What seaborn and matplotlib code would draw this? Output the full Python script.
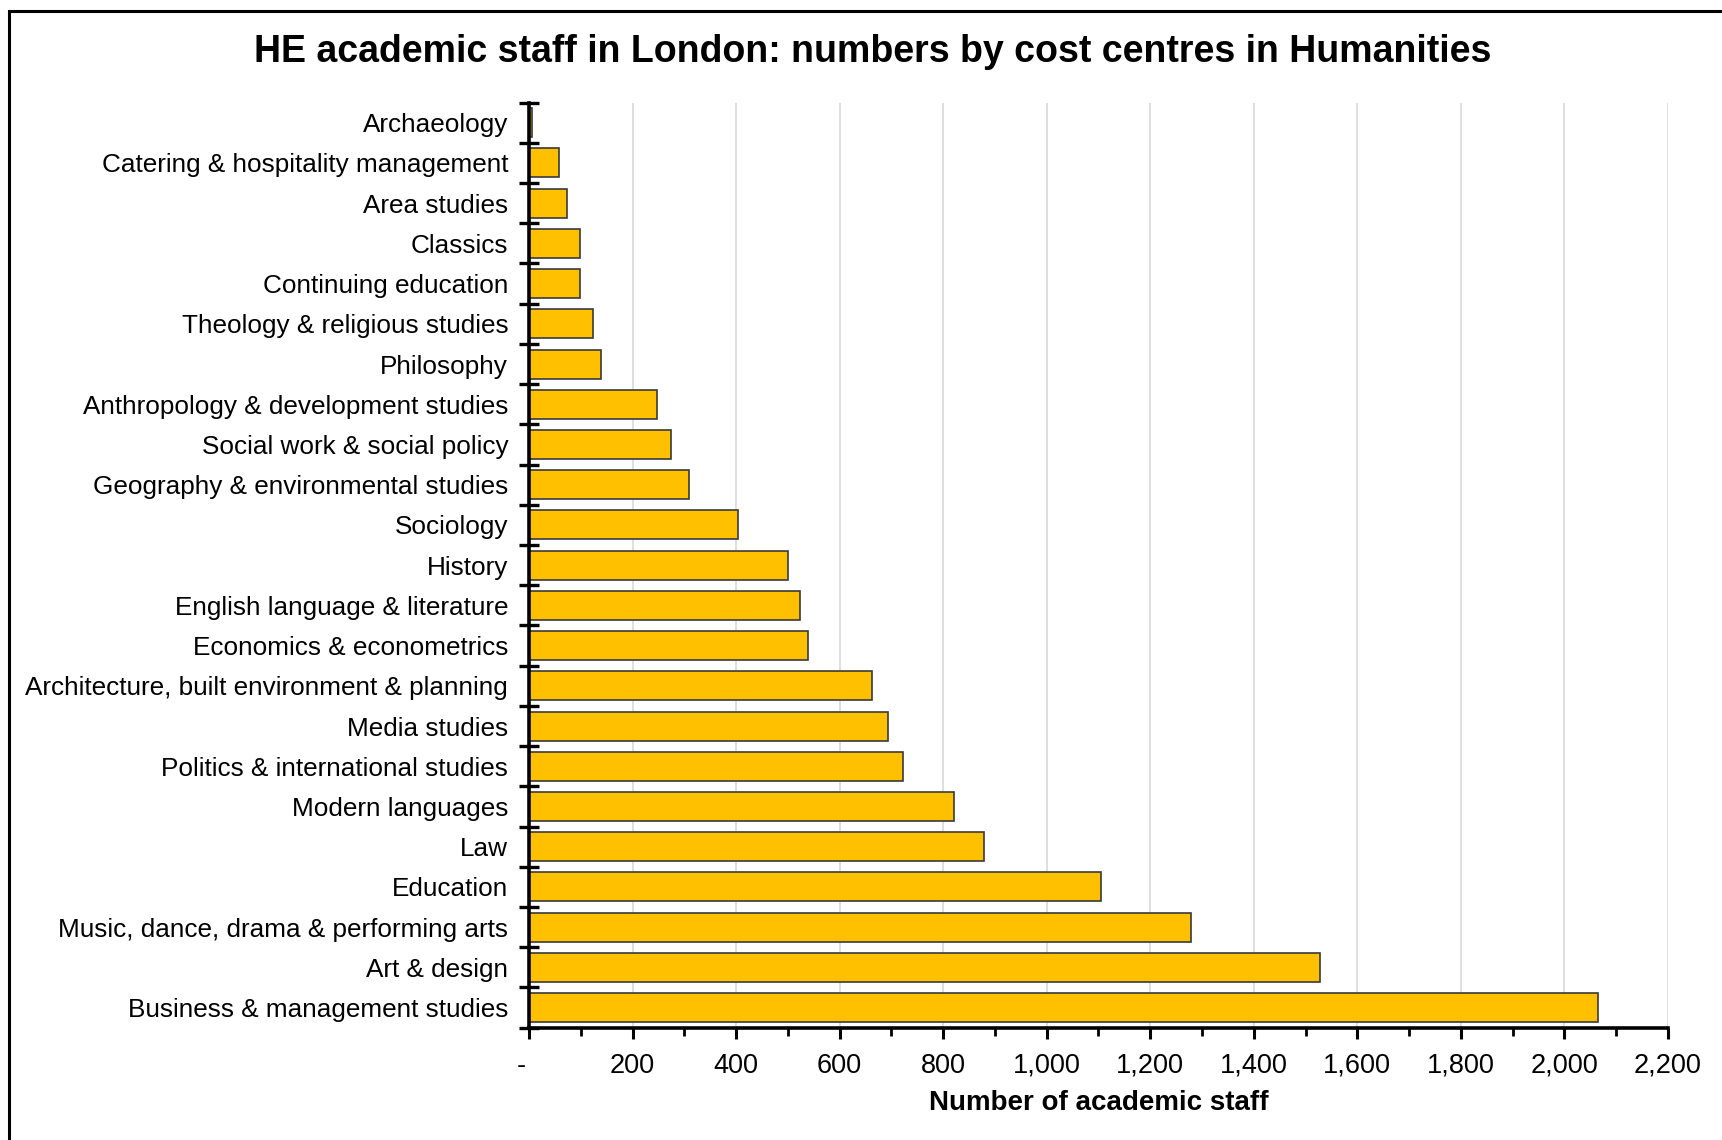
import numpy as np
import pandas as pd
import matplotlib
matplotlib.use("Agg")
import matplotlib.pyplot as plt
import matplotlib.ticker as mticker
from matplotlib.patches import Rectangle
import seaborn as sns

cost_centres = ["Archaeology", "Catering & hospitality management", "Area studies", "Classics",
                "Continuing education", "Theology & religious studies", "Philosophy",
                "Anthropology & development studies", "Social work & social policy",
                "Geography & environmental studies", "Sociology", "History",
                "English language & literature", "Economics & econometrics",
                "Architecture, built environment & planning", "Media studies",
                "Politics & international studies", "Modern languages", "Law", "Education",
                "Music, dance, drama & performing arts", "Art & design",
                "Business & management studies"]
staff = [5, 57, 73, 99, 98, 124, 139, 248, 274, 310, 403, 500, 523, 539,
         663, 694, 722, 820, 879, 1104, 1279, 1528, 2064]

df = pd.DataFrame({"centre": cost_centres, "staff": staff})

sns.set_style("white")
plt.rcParams["font.family"] = ["Liberation Sans", "DejaVu Sans"]
for key in ["text.color", "axes.labelcolor", "xtick.color", "ytick.color"]:
    plt.rcParams[key] = "black"

fig = plt.figure(figsize=(17.22, 11.4), dpi=100)
ax = fig.add_axes([0.3072, 0.0985, 0.6614, 0.8115])

sns.barplot(data=df, x="staff", y="centre", orient="h", color="#FFC000",
            edgecolor="#3a3a3a", linewidth=1.2, width=0.72, saturation=1, ax=ax)

ax.set_xlim(0, 2200)
ax.set_ylim(len(cost_centres) - 0.5, -0.5)
ax.xaxis.set_major_locator(mticker.MultipleLocator(200))
ax.xaxis.set_minor_locator(mticker.MultipleLocator(100))
# Excel accounting style: zero shown as a dash, slightly left of the axis
ax.xaxis.set_major_formatter(mticker.FuncFormatter(lambda v, p: "-  " if v == 0 else f"{int(v):,}"))
ax.grid(axis="x", which="major", color="#d9d9d9", linewidth=1.2)
ax.set_axisbelow(True)

ax.set_yticks(np.arange(-0.5, len(cost_centres), 1), minor=True)
ax.tick_params(left=True, bottom=True, which="both")
ax.tick_params(axis="y", which="major", length=0, pad=15, labelsize=18.8)
ax.tick_params(axis="y", which="minor", direction="inout", length=14, width=2.4, color="black")
ax.tick_params(axis="x", which="major", direction="out", length=8, width=2.2, pad=10,
               labelsize=19.5, color="black")
ax.tick_params(axis="x", which="minor", direction="out", length=6, width=2, color="black")

for side in ["top", "right"]:
    ax.spines[side].set_visible(False)
for side in ["left", "bottom"]:
    ax.spines[side].set_linewidth(2.6)
    ax.spines[side].set_color("black")

ax.set_ylabel("")
ax.set_xlabel("Number of academic staff", fontsize=20, fontweight="bold", labelpad=8)

fig.text(0.507, 1 - 52 / 1140, "HE academic staff in London: numbers by cost centres in Humanities",
         ha="center", va="center", fontsize=27, fontweight="bold")

fig.patches.append(Rectangle((9 / 1722, -0.2), 1.5, 1.2 - 11 / 1140, transform=fig.transFigure,
                             fill=False, edgecolor="black", linewidth=2.2))

fig.savefig("out.png", dpi=100)
